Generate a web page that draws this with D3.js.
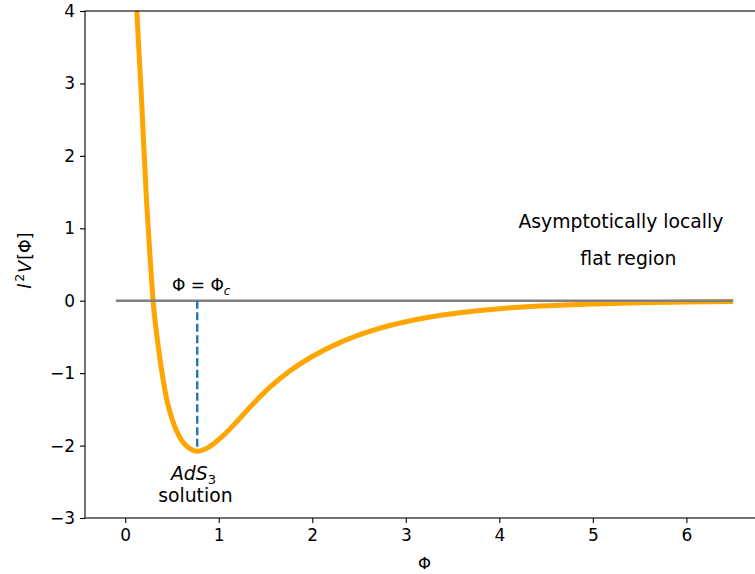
<!DOCTYPE html>
<html>
<head>
<meta charset="utf-8">
<script src="https://cdn.jsdelivr.net/npm/d3@7"></script>
<style>
  body { margin: 0; background: #fff; }
  text { font-family: "DejaVu Sans", sans-serif; }
</style>
</head>
<body>
<div id="chart"></div>
<script>
// potential curve (Phi, l^2 V)
const phiValues = [0.11, 0.124, 0.17, 0.227, 0.26, 0.298, 0.35, 0.405, 0.45, 0.5, 0.55, 0.6, 0.65, 0.7, 0.765, 0.85, 0.95, 1.05, 1.2, 1.334, 1.55, 1.76, 2.0, 2.3, 2.62, 3.0, 3.26, 3.6, 4.0, 4.43, 5.0, 5.5, 6.0, 6.5];
const potValues = [4.4, 4.0, 2.9, 1.4, 0.72, 0.0, -0.6, -1.09, -1.4, -1.63, -1.8, -1.92, -2.0, -2.05, -2.08, -2.05, -1.97, -1.86, -1.66, -1.47, -1.19, -0.97, -0.77, -0.575, -0.42, -0.29, -0.225, -0.163, -0.11, -0.073, -0.045, -0.028, -0.017, -0.011];

// zero line and the critical point
const zeroLine = [-0.1, 6.5];
const phiC = 0.77;
const vMin = -2.08;

const xTicks = [0, 1, 2, 3, 4, 5, 6];
const yTicks = [-3, -2, -1, 0, 1, 2, 3, 4];

const curve = phiValues.map((p, i) => ({x: p, y: potValues[i]}));

// container svg
const W = 755, H = 574;
const margin = {top: 11, left: 85, right: 764, bottom: 518};

const svg = d3.select("#chart")
    .append("svg")
    .attr("width", W)
    .attr("height", H);

const x = d3.scaleLinear().domain([-0.43, 6.83]).range([margin.left, margin.right]);
const y = d3.scaleLinear().domain([-3, 4]).range([margin.bottom, margin.top]);

svg.append("defs").append("clipPath").attr("id", "clip")
    .append("rect")
    .attr("x", margin.left).attr("y", margin.top)
    .attr("width", margin.right - margin.left)
    .attr("height", margin.bottom - margin.top);

const plot = svg.append("g").attr("clip-path", "url(#clip)");

// the orange potential
plot.append("path")
    .datum(curve)
    .attr("fill", "none")
    .attr("stroke", "#ffa500")
    .attr("stroke-width", 5)
    .attr("stroke-linejoin", "round")
    .attr("d", d3.line()
        .x(d => x(d.x))
        .y(d => y(d.y))
        .curve(d3.curveMonotoneX));

// grey zero line on top
plot.append("line")
    .attr("x1", x(zeroLine[0])).attr("x2", x(zeroLine[1]))
    .attr("y1", y(0)).attr("y2", y(0))
    .attr("stroke", "#808080")
    .attr("stroke-width", 2.4);

// dashed marker down to the minimum
plot.append("line")
    .attr("x1", x(phiC)).attr("x2", x(phiC))
    .attr("y1", y(0)).attr("y2", y(vMin) - 4)
    .attr("stroke", "#1f77b4")
    .attr("stroke-width", 2.4)
    .attr("stroke-dasharray", "8,3.5");

// axes
const xAxis = svg.append("g")
    .attr("transform", `translate(0,${margin.bottom})`)
    .call(d3.axisBottom(x).tickValues(xTicks).tickSize(5).tickPadding(6)
        .tickFormat(d => String(d).replace("-", "\u2212")));

const yAxis = svg.append("g")
    .attr("transform", `translate(${margin.left},0)`)
    .call(d3.axisLeft(y).tickValues(yTicks).tickSize(5).tickPadding(5)
        .tickFormat(d => String(d).replace("-", "\u2212")));

[xAxis, yAxis].forEach(a => {
    a.select(".domain").remove();
    a.selectAll("line").attr("stroke", "#000").attr("stroke-width", 1.1);
    a.selectAll("text").attr("fill", "#000").style("font-size", "17px")
        .style("font-family", "DejaVu Sans, sans-serif");
});

// spines
svg.append("rect")
    .attr("x", margin.left).attr("y", margin.top)
    .attr("width", margin.right - margin.left)
    .attr("height", margin.bottom - margin.top)
    .attr("fill", "none")
    .attr("stroke", "#000")
    .attr("stroke-width", 1.1);

// annotations
svg.append("text")
    .attr("x", x(0.5)).attr("y", y(0.13))
    .style("font-size", "17px")
    .html('\u03a6 = \u03a6<tspan font-style="italic" font-size="12px" dy="4">c</tspan>');

svg.append("text")
    .attr("x", x(0.73)).attr("y", y(-2.47))
    .attr("text-anchor", "middle")
    .style("font-size", "18.8px")
    .html('<tspan font-style="italic">AdS</tspan><tspan font-size="13px" dy="4">3</tspan>');

svg.append("text")
    .attr("x", x(0.75)).attr("y", y(-2.78))
    .attr("text-anchor", "middle")
    .style("font-size", "18.8px")
    .text("solution");

svg.append("text")
    .attr("x", x(5.3)).attr("y", y(1.0))
    .attr("text-anchor", "middle")
    .style("font-size", "18.8px")
    .text("Asymptotically locally");

svg.append("text")
    .attr("x", x(5.38)).attr("y", y(0.5))
    .attr("text-anchor", "middle")
    .style("font-size", "18.8px")
    .text("flat region");

// axis labels
svg.append("text")
    .attr("x", (margin.left + margin.right) / 2).attr("y", 569)
    .attr("text-anchor", "middle")
    .style("font-size", "16.5px")
    .text("\u03a6");

svg.append("text")
    .attr("transform", `translate(31,${(margin.top + margin.bottom) / 2 - 4}) rotate(-90)`)
    .attr("text-anchor", "middle")
    .style("font-size", "17.5px")
    .html('<tspan font-style="italic">l</tspan><tspan font-size="12.5px" dx="2" dy="-7">2</tspan><tspan font-style="italic" dx="1" dy="7">V</tspan><tspan dx="1">[\u03a6]</tspan>');
</script>
</body>
</html>
